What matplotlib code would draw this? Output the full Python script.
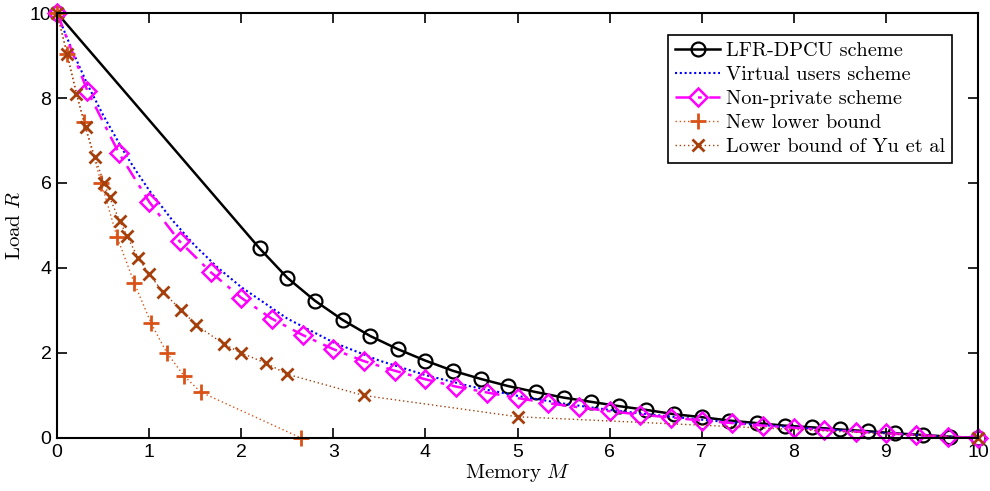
import matplotlib
matplotlib.use("Agg")
import matplotlib.pyplot as plt

# Values
M_lfr = [0, 2.2, 2.5, 2.8, 3.1, 3.4, 3.7, 4.0, 4.3, 4.6, 4.9, 5.2, 5.5, 5.8,
         6.1, 6.4, 6.7, 7.0, 7.3, 7.6, 7.9, 8.2, 8.5, 8.8, 9.1, 9.4, 9.7, 10]
R_lfr = [10, 4.46, 3.77, 3.23, 2.78, 2.40, 2.09, 1.82, 1.58, 1.39, 1.22, 1.08,
         0.95, 0.85, 0.75, 0.66, 0.56, 0.49, 0.41, 0.35, 0.29, 0.25, 0.20,
         0.16, 0.11, 0.07, 0.03, 0]

M_vu = [0, 0.1, 0.2, 0.33, 0.5, 0.67, 0.75, 0.875, 1.0, 1.25, 1.5, 1.75, 2.0,
        2.5, 3.0, 3.5, 4.0, 4.5, 5.0, 5.5, 6.0, 6.5, 7.0, 7.5, 8.0, 8.5, 9.0,
        9.5, 10]
R_vu = [10, 9.46, 8.95, 8.32, 7.60, 6.95, 6.65, 6.23, 5.83, 5.13, 4.52, 4.00,
        3.55, 2.81, 2.25, 1.82, 1.48, 1.21, 0.99, 0.81, 0.66, 0.54, 0.43,
        0.33, 0.25, 0.18, 0.11, 0.05, 0]

M_np = [0, 0.33, 0.67, 1.0, 1.33, 1.67, 2.0, 2.33, 2.67, 3.0, 3.33, 3.67, 4.0,
        4.33, 4.67, 5.0, 5.33, 5.67, 6.0, 6.33, 6.67, 7.0, 7.33, 7.67, 8.0,
        8.33, 8.67, 9.0, 9.33, 9.67, 10]
R_np = [10, 8.17, 6.71, 5.56, 4.63, 3.90, 3.30, 2.81, 2.42, 2.09, 1.81, 1.58,
        1.38, 1.21, 1.07, 0.94, 0.82, 0.72, 0.63, 0.55, 0.48, 0.41, 0.35,
        0.29, 0.24, 0.19, 0.15, 0.11, 0.07, 0.03, 0]

M_new = [0, 0.11, 0.29, 0.48, 0.65, 0.84, 1.02, 1.19, 1.38, 1.56, 2.65]
R_new = [10, 9.03, 7.44, 6.01, 4.74, 3.64, 2.71, 2.01, 1.46, 1.08, 0]

M_yu = [0, 0.11, 0.21, 0.31, 0.41, 0.51, 0.57, 0.68, 0.76, 0.88, 1.0, 1.15,
        1.35, 1.51, 1.81, 2.0, 2.27, 2.5, 3.33, 5.0, 10]
R_yu = [10, 9.03, 8.09, 7.32, 6.60, 6.01, 5.66, 5.11, 4.75, 4.24, 3.86, 3.43,
        3.01, 2.66, 2.21, 2.0, 1.76, 1.50, 1.0, 0.5, 0]

plt.rcParams["font.family"] = "Liberation Sans"
plt.rcParams["mathtext.fontset"] = "cm"

fig = plt.figure(figsize=(9.9, 4.91), dpi=100)
ax = fig.add_axes([0.0576, 0.108, 0.9303, 0.8655])

ax.plot(M_lfr, R_lfr, "-", color="black", linewidth=1.8, marker="o",
        markersize=10, markerfacecolor="none", markeredgewidth=1.6,
        label="LFR-DPCU scheme", clip_on=False)
ax.plot(M_vu, R_vu, linestyle=(0, (1, 1.3)), color="blue", linewidth=1.5,
        label="Virtual users scheme", clip_on=False)
ax.plot(M_np, R_np, linestyle=(0, (6, 3, 1.5, 3)), color="magenta",
        linewidth=1.8, marker="D", markersize=9, markerfacecolor="none",
        markeredgewidth=1.8, label="Non-private scheme", clip_on=False)
ax.plot(M_new, R_new, linestyle=(0, (1, 2)), color="#D95319", linewidth=1.0,
        marker="+", markersize=11, markeredgewidth=2.0,
        label="New lower bound", clip_on=False)
ax.plot(M_yu, R_yu, linestyle=(0, (1, 2)), color="#A5400C", linewidth=1.0,
        marker="x", markersize=8, markeredgewidth=2.0,
        label="Lower bound of Yu et al", clip_on=False)

ax.set_xlim(0, 10)
ax.set_ylim(0, 10)
ax.set_xticks(range(0, 11))
ax.set_yticks(range(0, 11, 2))
ax.tick_params(direction="in", length=7, width=1.2, top=True, right=True,
               labelsize=14, pad=4)
for spine in ax.spines.values():
    spine.set_linewidth(1.5)

ax.set_xlabel(r"$\mathrm{Memory}\ M$", fontsize=15, labelpad=1)
ax.set_ylabel(r"$\mathrm{Load}\ R$", fontsize=15, labelpad=4)

leg = ax.legend(loc="upper right", bbox_to_anchor=(0.972, 0.948),
                prop={"family": "cmr10", "size": 14.6}, handlelength=2.2,
                handletextpad=0.3, borderpad=0.35, labelspacing=0.28,
                fancybox=False, framealpha=1, borderaxespad=0)
leg.get_frame().set_edgecolor("black")
leg.get_frame().set_linewidth(1.2)

fig.savefig("out.png", dpi=100)
